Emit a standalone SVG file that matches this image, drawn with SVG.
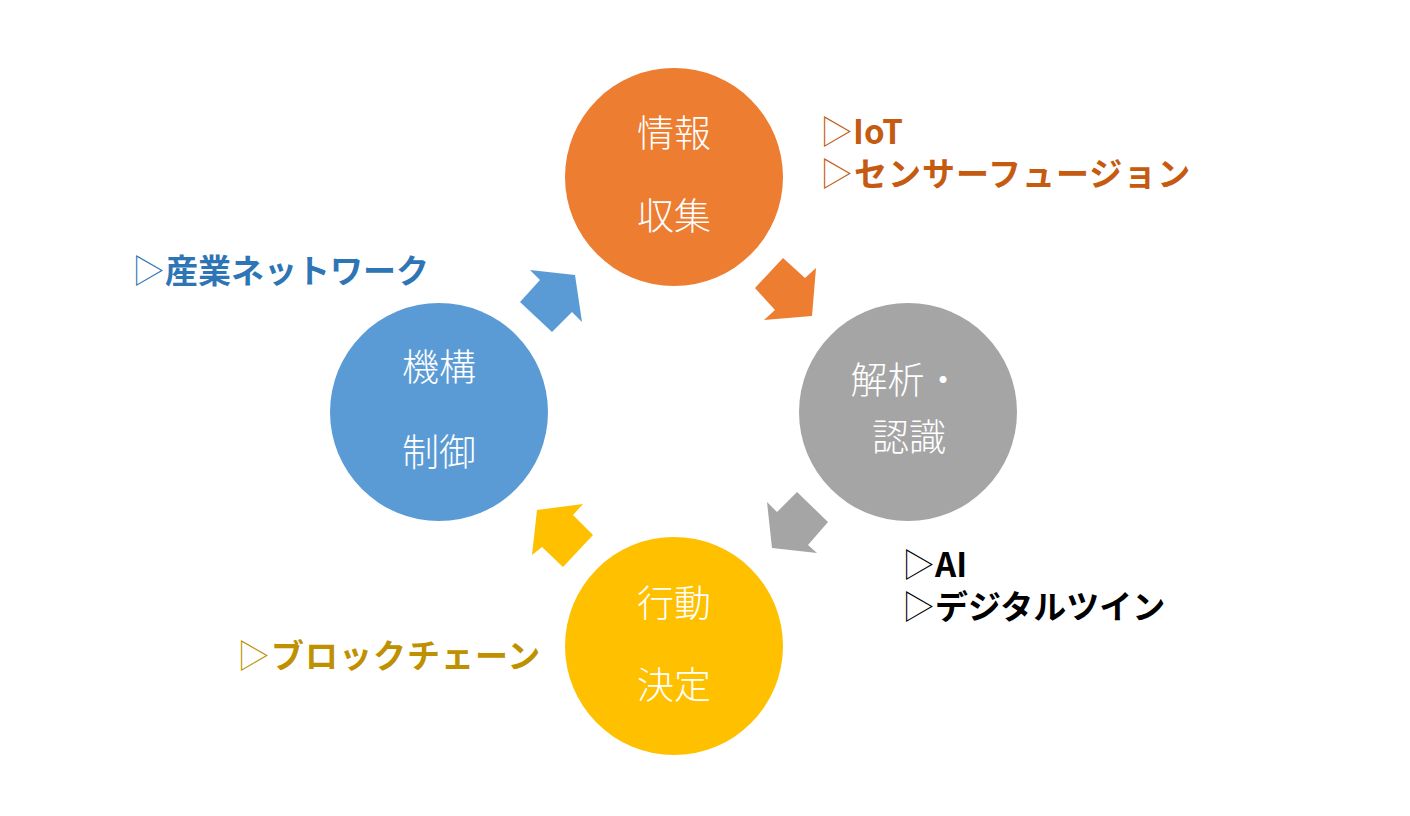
<svg xmlns="http://www.w3.org/2000/svg" width="1410" height="816" viewBox="0 0 1410 816">
<style>
.ct{font-family:"Noto Sans CJK JP","Noto Sans",sans-serif;font-size:37px;font-weight:300;fill:#ffffff;text-anchor:middle}
.lb{font-family:"Noto Sans CJK JP","Noto Sans",sans-serif;font-size:33px;font-weight:700}
.tri{font-weight:300}
.sp{letter-spacing:1px}
</style>
<rect width="1410" height="816" fill="#ffffff"/>
<g id="connectors">
<polygon points="755,288 783,258 805,278 816,268 812,316 764,320 775,310" fill="#ED7D31"/>
<polygon points="767,502 772,548 817,553 808,545 828,522 797,492 777,512" fill="#A5A5A5"/>
<polygon points="583,504 537,510 532,555 542,547 563,567 593,535 573,515" fill="#FFC000"/>
<polygon points="530,270 575,275 582,322 572,312 552,332 520,302 540,280" fill="#5B9BD5"/>
</g>
<g id="node-info">
<circle cx="674" cy="177" r="109" fill="#ED7D31"/>
<text class="ct" x="674" y="147">情報</text>
<text class="ct" x="674" y="230">収集</text>
</g>
<g id="node-analysis">
<circle cx="908" cy="412" r="109" fill="#A5A5A5"/>
<text class="ct" x="906" y="394">解析・</text>
<text class="ct" x="909" y="451">認識</text>
</g>
<g id="node-decision">
<circle cx="674" cy="646" r="109" fill="#FFC000"/>
<text class="ct" x="674" y="617">行動</text>
<text class="ct" x="674" y="699">決定</text>
</g>
<g id="node-control">
<circle cx="439" cy="412" r="109" fill="#5B9BD5"/>
<text class="ct" x="439" y="381">機構</text>
<text class="ct" x="439" y="466">制御</text>
</g>
<g id="label-info" class="lb" fill="#C55A11">
<text x="820" y="144"><tspan class="tri">▷</tspan>IoT<tspan x="820" y="186" class="tri sp">▷</tspan><tspan class="sp">センサーフュージョン</tspan></text>
</g>
<g id="label-analysis" class="lb" fill="#000000">
<text x="902" y="577"><tspan class="tri">▷</tspan>AI<tspan x="902" y="619" class="tri">▷</tspan>デジタルツイン</text>
</g>
<g id="label-decision" class="lb" fill="#BF9000">
<text x="237" y="668" class="sp"><tspan class="tri">▷</tspan>ブロックチェーン</text>
</g>
<g id="label-control" class="lb" fill="#2E75B6">
<text x="132" y="283"><tspan class="tri">▷</tspan>産業ネットワーク</text>
</g>
</svg>
